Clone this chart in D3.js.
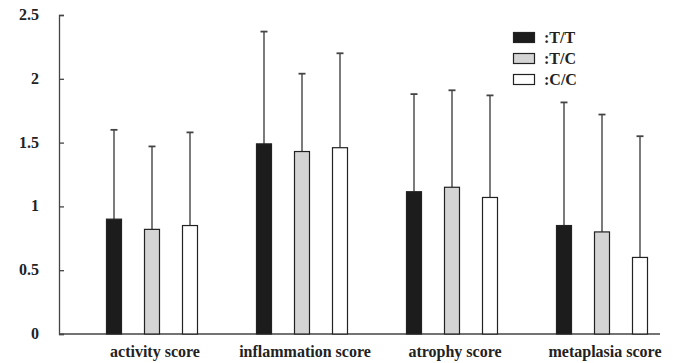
<!DOCTYPE html>
<html><head><meta charset="utf-8">
<script src="https://cdn.jsdelivr.net/npm/d3@7"></script>
<style>body{margin:0;background:#fff}svg{display:block}text{font-family:"Liberation Serif","Times New Roman",serif;font-weight:bold;fill:#222}</style>
</head><body>
<svg id="c" width="673" height="363"></svg>
<script>
const categories = ["activity score","inflammation score","atrophy score","metaplasia score"];
const series = [":T/T",":T/C",":C/C"];
const meanTT = [0.90,1.49,1.115,0.85];
const meanTC = [0.82,1.43,1.15,0.80];
const meanCC = [0.85,1.46,1.07,0.60];
const upperTT = [1.60,2.37,1.88,1.815];
const upperTC = [1.47,2.04,1.91,1.72];
const upperCC = [1.58,2.20,1.87,1.55];
const yTicks = [0,0.5,1,1.5,2,2.5];
const yTickLabels = ["0","0.5","1","1.5","2","2.5"];
const fills = ["#1c1c1c","#d4d4d4","#ffffff"];

const means = [meanTT, meanTC, meanCC];
const uppers = [upperTT, upperTC, upperCC];

const svg = d3.select("#c");
const y = d3.scaleLinear().domain([0,2.5]).range([334,15]);
const x = d3.scaleBand().domain(categories).range([77,677]).padding(0);
const xs = d3.scalePoint().domain(series).range([-38,38]);
const bw = 16;

// axes
const yAxis = d3.axisRight(y).tickValues(yTicks).tickSize(5).tickFormat("");
const gy = svg.append("g").attr("transform","translate(59,0)").call(yAxis);
gy.select(".domain").attr("stroke","#444").attr("stroke-width",1.3);
gy.selectAll(".tick line").attr("stroke","#444").attr("stroke-width",1.3);
svg.selectAll(".ylab").data(yTicks).enter().append("text")
  .attr("x",39).attr("y",d=>y(d)+5).attr("text-anchor","end")
  .attr("font-size",16).text((d,i)=>yTickLabels[i]);

svg.append("line").attr("x1",59).attr("x2",660).attr("y1",y(0)).attr("y2",y(0))
  .attr("stroke","#444").attr("stroke-width",1.3);

const data = [];
series.forEach((s,si)=>categories.forEach((c,ci)=>data.push({s,si,c,m:means[si][ci],u:uppers[si][ci]})));
const cx = d=>x(d.c)+x.bandwidth()/2+xs(d.s);

// error bars
svg.selectAll(".err").data(data).enter().append("line")
  .attr("x1",cx).attr("x2",cx).attr("y1",d=>y(d.m)).attr("y2",d=>y(d.u))
  .attr("stroke","#444").attr("stroke-width",1.4);
svg.selectAll(".cap").data(data).enter().append("line")
  .attr("x1",d=>cx(d)-3.5).attr("x2",d=>cx(d)+3.5).attr("y1",d=>y(d.u)).attr("y2",d=>y(d.u))
  .attr("stroke","#444").attr("stroke-width",1.8);

// bars
svg.selectAll(".bar").data(data).enter().append("rect")
  .attr("x",d=>cx(d)-bw/2+0.5).attr("width",bw-1)
  .attr("y",d=>y(d.m)).attr("height",d=>y(0)-y(d.m))
  .attr("fill",d=>fills[d.si]).attr("stroke","#222").attr("stroke-width",1.2);

// category labels
svg.selectAll(".xlab").data(categories).enter().append("text")
  .attr("x",d=>x(d)+x.bandwidth()/2+3).attr("y",357).attr("text-anchor","middle")
  .attr("font-size",16).text(d=>d);

// legend
const lg = svg.append("g").attr("transform","translate(513,32)");
series.forEach((s,i)=>{
  lg.append("rect").attr("x",0.5).attr("y",i*21+0.5).attr("width",21).attr("height",10)
    .attr("fill",fills[i]).attr("stroke","#222").attr("stroke-width",1.2);
  lg.append("text").attr("x",31).attr("y",i*21+10.5).attr("font-size",16).text(s);
});
</script>
</body></html>
